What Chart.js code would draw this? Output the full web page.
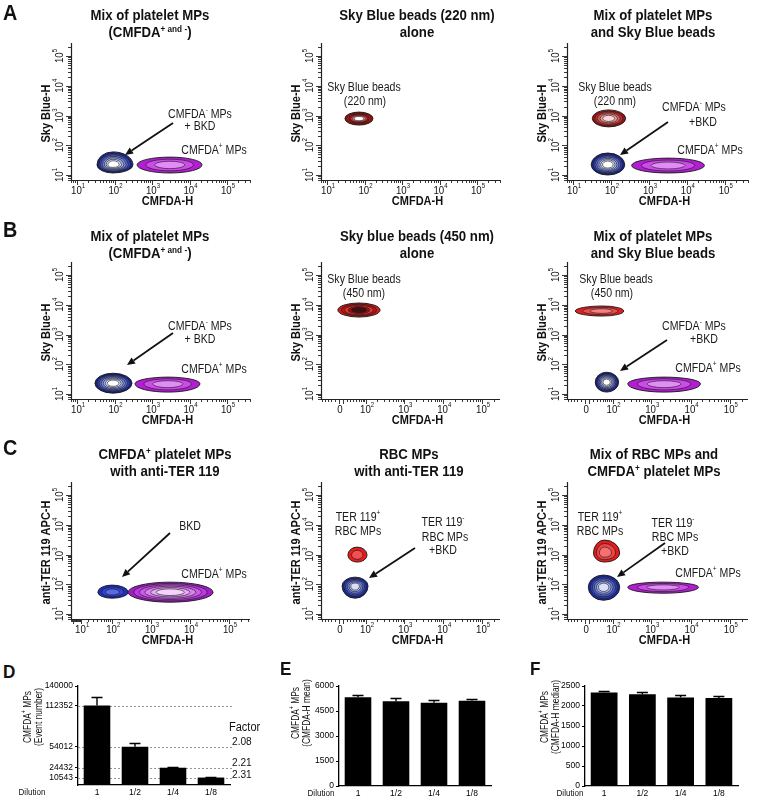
<!DOCTYPE html>
<html><head><meta charset="utf-8">
<script src="https://cdn.jsdelivr.net/npm/chart.js@4.4.1/dist/chart.umd.min.js"></script>
<style>
html,body{margin:0;padding:0;background:#fff;}
#fig{position:relative;width:757px;height:800px;overflow:hidden;background:#fff;font-family:"Liberation Sans",Arial,Helvetica,sans-serif;color:#111;}
canvas{position:absolute;}
.ttl{position:absolute;width:300px;text-align:center;font-weight:bold;font-size:15px;line-height:17px;transform:scaleX(0.88);transform-origin:50% 50%;white-space:nowrap;}
.ttl sup{font-size:0.62em;line-height:0;vertical-align:0.55em;}
.lt{position:absolute;font-weight:bold;line-height:1;transform:scaleX(0.9);transform-origin:0 0;}
</style></head><body><div id="fig"></div>
<script>
// ---------------- DATA ----------------
// axis tick values / labels
const decadeTicks = [10, 100, 1000, 10000, 100000];
const decadeLabels = ['10^{1}', '10^{2}', '10^{3}', '10^{4}', '10^{5}'];
const biexTicks = [0, 100, 1000, 10000, 100000];
const biexLabels = ['0', '10^{2}', '10^{3}', '10^{4}', '10^{5}'];

// populations: [name, xLow, xCenter, xHigh, yLow, yCenter, yHigh]
const popsA1 = [
  ['CMFDA- MPs + BKD', 34, 91, 310, 11.7, 22, 60],
  ['CMFDA+ MPs', 400, 3000, 21500, 11.7, 22, 40]
];
const popsA2 = [
  ['Sky Blue beads (220 nm)', 30, 71, 168, 478, 790, 1310]
];
const popsA3 = [
  ['Sky Blue beads (220 nm)', 32, 86, 243, 415, 800, 1550],
  ['CMFDA- MPs +BKD', 30, 82, 230, 10, 22, 55],
  ['CMFDA+ MPs', 350, 3200, 29000, 11.7, 21, 37]
];
const popsB1 = [
  ['CMFDA- MPs + BKD', 30, 91, 292, 10.7, 23, 50],
  ['CMFDA+ MPs', 351, 2670, 19000, 11.6, 22, 37]
];
const popsB2 = [
  ['Sky Blue beads (450 nm)', -3, 62, 236, 3870, 6670, 11500]
];
const popsB3 = [
  ['Sky Blue beads (450 nm)', -26, 50, 197, 4190, 6170, 9100],
  ['CMFDA- MPs +BKD', 26, 67, 145, 11.6, 25, 54],
  ['CMFDA+ MPs', 251, 2120, 17900, 11.6, 22, 37]
];
const popsC1 = [
  ['BKD', 41, 99, 258, 34, 54, 94],
  ['CMFDA+ MPs', 258, 3080, 39000, 25, 54, 118]
];
const popsC2 = [
  ['TER 119+ RBC MPs', 23, 54, 106, 557, 960, 1780],
  ['TER 119- RBC MPs +BKD', 7.5, 46, 113, 34, 87, 174]
];
const popsC3 = [
  ['TER 119+ RBC MPs', 21, 58, 155, 557, 1120, 3070],
  ['TER 119- RBC MPs +BKD', 7.5, 54, 155, 29, 80, 204],
  ['CMFDA+ MPs', 251, 2000, 15900, 50, 80, 118]
];

// bar charts
const dilutions = ['1', '1/2', '1/4', '1/8'];
const eventNumber = [112352, 54012, 24432, 10543];
const eventNumberErr = [12000, 5200, 1100, 600];
const eventTicks = [10543, 24432, 54012, 112352, 140000];
const factorLabels = ['2.08', '2.21', '2.31'];
const meanCMFDA = [5330, 5090, 4990, 5120];
const meanCMFDAErr = [120, 180, 160, 90];
const medianCMFDA = [2335, 2295, 2215, 2200];
const medianCMFDAErr = [35, 50, 60, 45];

// ---------------- STYLE ----------------
const FONT = '"Liberation Sans", Arial, Helvetica, sans-serif';
const SX = 0.88;
const BLUE = ['#1c2590', '#3040b0', '#5566c8', '#7f8ddc', '#aab3ec', '#d8dcf8', '#ffffff'];
const BLUE_C1 = ['#1f2fc0', '#3444d4', '#5a6ae0'];
const BLUE_C = ['#1c2a9a', '#2e40b8', '#5064cc', '#7888e0', '#a8b2ee', '#dadefa'];
const MAG = ['#b21ed2', '#cc4ce8', '#e28cf6'];
const MAG_C1 = ['#a01cc4', '#bb3ade', '#cc5aea', '#dc82f2', '#e8a8f8', '#f4d2fc'];
const RED_A2 = ['#b01010', '#c81c1c', '#a01414', '#d84848', '#f09090', '#ffffff'];
const RED_A3 = ['#9c1414', '#b83030', '#d86060', '#eea0a0', '#fad8d8'];
const RED_B2 = ['#d41c1c', '#b81414', '#e23a3a', '#a01010', '#401010'];
const RED_B3 = ['#e02020', '#f04c4c', '#f88080'];
const RED_C2 = ['#e41e1e', '#f25050'];
const RED_C3 = ['#e21c1c', '#f04444', '#f67070'];

// ---------------- CUSTOM BIEXPONENTIAL SCALE ----------------
class BiexScale extends Chart.Scale {
  static id = 'biex';
  static defaults = {};
  determineDataLimits() { this.min = this.options.min; this.max = this.options.max; }
  buildTicks() { return [{value: this.min}, {value: this.max}]; }
  tf(v) { const W = this.options.W; return Math.asinh(v / (2 * W)) / Math.LN10; }
  configure() { super.configure(); this._t0 = this.tf(this.min); this._t1 = this.tf(this.max); }
  getPixelForValue(v) { return this.getPixelForDecimal((this.tf(v) - this._t0) / (this._t1 - this._t0)); }
  getValueForPixel(p) { const t = this._t0 + this.getDecimalForPixel(p) * (this._t1 - this._t0); return 2 * this.options.W * Math.sinh(t * Math.LN10); }
  getPixelForTick(i) { return this.getPixelForValue(this.ticks[i].value); }
  getLabelForValue(v) { return String(v); }
}
Chart.register(BiexScale);

// ---------------- HELPERS ----------------
const fig = document.getElementById('fig');
function addCanvas(left, top, w, h) {
  const c = document.createElement('canvas');
  c.width = w; c.height = h;
  c.style.left = left + 'px'; c.style.top = top + 'px';
  c.style.width = w + 'px'; c.style.height = h + 'px';
  fig.appendChild(c); return c;
}
function addHTML(cls, html, css) {
  const d = document.createElement('div'); d.className = cls; d.innerHTML = html;
  Object.assign(d.style, css); fig.appendChild(d); return d;
}
function parseRich(s) {
  const out = []; const re = /\^\{([^}]*)\}/g; let last = 0, m;
  while ((m = re.exec(s))) { if (m.index > last) out.push([s.slice(last, m.index), 0]); out.push([m[1], 1]); last = re.lastIndex; }
  if (last < s.length) out.push([s.slice(last), 0]);
  return out;
}
function drawRich(ctx, s, x, y, o) {
  const size = o.size, wt = o.bold ? 'bold ' : '';
  const fN = wt + size + 'px ' + FONT, fS = wt + (size * 0.62).toFixed(2) + 'px ' + FONT;
  const segs = parseRich(s);
  let w = 0;
  const ws = segs.map(([t, sup]) => { ctx.font = sup ? fS : fN; const m = ctx.measureText(t).width; w += m; return m; });
  ctx.save(); ctx.translate(x, y); if (o.rot) ctx.rotate(o.rot); ctx.scale(o.sx || SX, 1);
  let cx = o.align === 'left' ? 0 : o.align === 'right' ? -w : -w / 2;
  ctx.textBaseline = 'middle'; ctx.textAlign = 'left'; ctx.fillStyle = o.color || '#111';
  segs.forEach(([t, sup], i) => { ctx.font = sup ? fS : fN; ctx.fillText(t, cx, sup ? -size * 0.4 : 0); cx += ws[i]; });
  ctx.restore();
}
function arrow(ctx, x1, y1, x2, y2) {
  const ang = Math.atan2(y2 - y1, x2 - x1), L = 8, Wd = 3.6;
  const bx = x2 - L * Math.cos(ang), by = y2 - L * Math.sin(ang);
  ctx.save(); ctx.strokeStyle = '#111'; ctx.fillStyle = '#111'; ctx.lineWidth = 1.8;
  ctx.beginPath(); ctx.moveTo(x1, y1); ctx.lineTo(bx, by); ctx.stroke();
  ctx.beginPath(); ctx.moveTo(x2, y2);
  ctx.lineTo(bx + Wd * Math.sin(ang), by - Wd * Math.cos(ang));
  ctx.lineTo(bx - Wd * Math.sin(ang), by + Wd * Math.cos(ang));
  ctx.closePath(); ctx.fill(); ctx.restore();
}
function drawBlob(ctx, xs, ys, pop, pal) {
  const [, xl, xc, xh, yl, yc, yh] = pop;
  const cx = xs.getPixelForValue(xc), cy = ys.getPixelForValue(yc);
  const aL = cx - xs.getPixelForValue(xl), aR = xs.getPixelForValue(xh) - cx;
  const bT = cy - ys.getPixelForValue(yh), bB = ys.getPixelForValue(yl) - cy;
  const n = pal.length;
  ctx.save();
  pal.forEach((col, k) => {
    const s = 1 - k * 0.8 / n;
    ctx.beginPath();
    ctx.ellipse(cx, cy, aR * s, bB * s, 0, 0, Math.PI / 2);
    ctx.ellipse(cx, cy, aL * s, bB * s, 0, Math.PI / 2, Math.PI);
    ctx.ellipse(cx, cy, aL * s, bT * s, 0, Math.PI, 1.5 * Math.PI);
    ctx.ellipse(cx, cy, aR * s, bT * s, 0, 1.5 * Math.PI, 2 * Math.PI);
    ctx.closePath();
    ctx.fillStyle = col; ctx.fill();
    ctx.lineWidth = k === 0 ? 0.9 : 0.6; ctx.strokeStyle = '#151515'; ctx.stroke();
  });
  ctx.restore();
}
function tickSet(type, min, max) {
  const out = [];
  if (type !== 'log') out.push([0, true]);
  const kStart = type === 'biex21' ? 1 : 0;
  for (let k = kStart; k <= 5; k++) for (let m = 1; m <= 9; m++) {
    const v = m * Math.pow(10, k);
    if (v >= min && v <= max) out.push([v, m === 1 && k > 0]);
    if (type !== 'log' && -v >= min) out.push([-v, false]);
  }
  return out;
}
const xLabelSets = {log: [decadeTicks, decadeLabels], biex21: [biexTicks, biexLabels], biex10: [decadeTicks, decadeLabels]};
const xRanges = {log: {type: 'logarithmic', min: 6.9, max: 410000},
  biex21: {type: 'biex', min: -54, max: 289000, W: 21},
  biex10: {type: 'biex', min: -2.4, max: 346000, W: 10}};
const yRange = {type: 'logarithmic', min: 6.8, max: 275000};

function flowPlugin(p) {
  return {
    id: 'flow',
    afterDatasetsDraw(chart) {
      const ctx = chart.ctx, a = chart.chartArea, xs = chart.scales.x, ys = chart.scales.y;
      chart.data.datasets.forEach(ds => drawBlob(ctx, xs, ys, ds.pop, ds.pal));
      p.texts.forEach(t => drawRich(ctx, t[0], a.left + t[1], a.top + t[2], {size: 12, color: '#1a1a1a'}));
      p.arrows.forEach(r => arrow(ctx, a.left + r[0], a.top + r[1], a.left + r[2], a.top + r[3]));
      // axes
      ctx.save(); ctx.strokeStyle = '#222'; ctx.lineWidth = 1.2;
      ctx.beginPath(); ctx.moveTo(a.left + 0.5, a.top); ctx.lineTo(a.left + 0.5, a.bottom + 0.5); ctx.lineTo(a.right, a.bottom + 0.5); ctx.stroke();
      ctx.lineWidth = 0.9;
      const xr = xRanges[p.xType];
      tickSet(p.xType, xr.min, xr.max).forEach(([v, maj]) => {
        const x = Math.round(xs.getPixelForValue(v)) + 0.5;
        ctx.beginPath(); ctx.moveTo(x, a.bottom); ctx.lineTo(x, a.bottom + (maj ? 5 : 3)); ctx.stroke();
      });
      tickSet('log', yRange.min, yRange.max).forEach(([v, maj]) => {
        const y = Math.round(ys.getPixelForValue(v)) + 0.5;
        ctx.beginPath(); ctx.moveTo(a.left, y); ctx.lineTo(a.left - (maj ? 5 : 3), y); ctx.stroke();
      });
      ctx.restore();
      const [tv, tl] = xLabelSets[p.xType];
      tv.forEach((v, i) => drawRich(ctx, tl[i], xs.getPixelForValue(v) + 1, a.bottom + 11, {size: 11}));
      decadeTicks.forEach((v, i) => drawRich(ctx, decadeLabels[i], a.left - 11, ys.getPixelForValue(v), {size: 11, rot: -Math.PI / 2}));
      drawRich(ctx, 'CMFDA-H', (a.left + a.right) / 2 + 7, a.bottom + 22, {size: 12.5, bold: true});
      drawRich(ctx, p.ytitle, a.left - 24, (a.top + a.bottom) / 2 + 2, {size: 12.5, bold: true, rot: -Math.PI / 2});
    }
  };
}
function flowChart(p) {
  const cv = addCanvas(p.left, p.top, p.w, p.h);
  const pad = {left: p.area[0] - p.left, top: p.area[1] - p.top, right: p.left + p.w - p.area[2], bottom: p.top + p.h - p.area[3]};
  new Chart(cv, {
    type: 'scatter',
    data: {datasets: p.pops.map((pop, i) => ({label: pop[0], data: [{x: pop[2], y: pop[5]}], pointRadius: 0, pop: pop, pal: p.pals[i]}))},
    options: {
      responsive: false, animation: false, events: [],
      layout: {padding: pad},
      plugins: {legend: {display: false}, tooltip: {enabled: false}},
      scales: {x: Object.assign({display: false}, xRanges[p.xType]), y: Object.assign({display: false}, yRange)}
    },
    plugins: [flowPlugin(p)]
  });
}

// ---------------- CONTOUR PANELS ----------------
const colL = {left: 0, w: 252, x0: 71, x1: 250};
const colM = {left: 250, w: 252, x0: 321, x1: 500};
const colR = {left: 496, w: 261, x0: 567, x1: 748};
const rowA = {top: 35, y0: 43, y1: 180};
const rowB = {top: 254, y0: 262, y1: 399};
const rowC = {top: 474, y0: 482, y1: 619};
function P(col, row, xType, ytitle, pops, pals, texts, arrows) {
  return {left: col.left, top: row.top, w: col.w, h: 180, area: [col.x0, row.y0, col.x1, row.y1], xType, ytitle, pops, pals, texts, arrows};
}
const panels = [
  P(colL, rowA, 'log', 'Sky Blue-H', popsA1, [BLUE, MAG],
    [['CMFDA^{-} MPs', 129, 72], ['+ BKD', 129, 84], ['CMFDA^{+} MPs', 143, 108]], [[102, 80, 54, 112]]),
  P(colM, rowA, 'log', 'Sky Blue-H', popsA2, [RED_A2],
    [['Sky Blue beads', 43, 45], ['(220 nm)', 44, 59]], []),
  P(colR, rowA, 'log', 'Sky Blue-H', popsA3, [RED_A3, BLUE, MAG],
    [['Sky Blue beads', 48, 45], ['(220 nm)', 48, 59], ['CMFDA^{-} MPs', 127, 65], ['+BKD', 136, 80], ['CMFDA^{+} MPs', 143, 108]], [[101, 79, 53, 112]]),
  P(colL, rowB, 'log', 'Sky Blue-H', popsB1, [BLUE, MAG],
    [['CMFDA^{-} MPs', 129, 65], ['+ BKD', 129, 78], ['CMFDA^{+} MPs', 143, 108]], [[102, 71, 56, 103]]),
  P(colM, rowB, 'biex21', 'Sky Blue-H', popsB2, [RED_B2],
    [['Sky Blue beads', 43, 18], ['(450 nm)', 43, 32]], []),
  P(colR, rowB, 'biex21', 'Sky Blue-H', popsB3, [RED_B3, BLUE, MAG],
    [['Sky Blue beads', 49, 18], ['(450 nm)', 45, 32], ['CMFDA^{-} MPs', 127, 65], ['+BKD', 137, 78], ['CMFDA^{+} MPs', 141, 107]], [[100, 78, 53, 109]]),
  P(colL, rowC, 'biex10', 'anti-TER 119 APC-H', popsC1, [BLUE_C1, MAG_C1],
    [['BKD', 119, 45], ['CMFDA^{+} MPs', 143, 93]], [[99, 51, 51, 95]]),
  P(colM, rowC, 'biex21', 'anti-TER 119 APC-H', popsC2, [RED_C2, BLUE_C],
    [['TER 119^{+}', 37, 36], ['RBC MPs', 37, 50], ['TER 119^{-}', 122, 41], ['RBC MPs', 124, 56], ['+BKD', 122, 69]], [[94, 66, 48, 96]]),
  P(colR, rowC, 'biex21', 'anti-TER 119 APC-H', popsC3, [RED_C3, BLUE_C, MAG],
    [['TER 119^{+}', 33, 36], ['RBC MPs', 33, 50], ['TER 119^{-}', 106, 42], ['RBC MPs', 108, 56], ['+BKD', 108, 70], ['CMFDA^{+} MPs', 141, 92]], [[98, 61, 50, 95]])
];
panels.forEach(flowChart);

// ---------------- TITLES & LETTERS ----------------
const titles = [
  [150, 14, 'Mix of platelet MPs<br>(CMFDA<sup>+ and -</sup>)'],
  [417, 14, 'Sky Blue beads (220 nm)<br>alone'],
  [653, 14, 'Mix of platelet MPs<br>and Sky Blue beads'],
  [150, 235, 'Mix of platelet MPs<br>(CMFDA<sup>+ and -</sup>)'],
  [417, 235, 'Sky blue beads (450 nm)<br>alone'],
  [653, 235, 'Mix of platelet MPs<br>and Sky Blue beads'],
  [165, 453, 'CMFDA<sup>+</sup> platelet MPs<br>with anti-TER 119'],
  [409, 453, 'RBC MPs<br>with anti-TER 119'],
  [654, 453, 'Mix of RBC MPs and<br>CMFDA<sup>+</sup> platelet MPs']
];
titles.forEach(([cx, cy, h]) => addHTML('ttl', h, {left: (cx - 150) + 'px', top: (cy - 8.5) + 'px'}));
[['A', 3, 1.5, 22], ['B', 3, 218.5, 22], ['C', 3, 436.5, 22], ['D', 3, 662, 19], ['E', 280, 659, 19], ['F', 530, 659, 19]]
  .forEach(([t, x, y, s]) => addHTML('lt', t, {left: x + 'px', top: y + 'px', fontSize: s + 'px'}));

// ---------------- BAR CHARTS ----------------
function barPlugin(o) {
  return {
    id: 'barx',
    beforeDatasetsDraw(chart) {
      if (!o.dashed) return;
      const ys = chart.scales.y, a = chart.chartArea, ctx = chart.ctx;
      ctx.save(); ctx.setLineDash([2, 2]); ctx.strokeStyle = '#8a8a8a'; ctx.lineWidth = 0.9;
      o.dashed.forEach(v => { const y = Math.round(ys.getPixelForValue(v)) + 0.5; ctx.beginPath(); ctx.moveTo(a.left, y); ctx.lineTo(a.right + 3, y); ctx.stroke(); });
      ctx.restore();
    },
    afterDatasetsDraw(chart) {
      const ys = chart.scales.y, a = chart.chartArea, ctx = chart.ctx;
      const meta = chart.getDatasetMeta(0);
      ctx.save(); ctx.strokeStyle = '#000'; ctx.lineWidth = 1.4;
      meta.data.forEach((bar, i) => {
        const y0 = ys.getPixelForValue(o.values[i]), y1 = Math.round(ys.getPixelForValue(o.values[i] + o.errs[i])) + 0.5;
        ctx.beginPath(); ctx.moveTo(bar.x, y0); ctx.lineTo(bar.x, y1); ctx.moveTo(bar.x - 5.5, y1); ctx.lineTo(bar.x + 5.5, y1); ctx.stroke();
      });
      ctx.restore();
      if (o.factors) {
        drawRich(ctx, 'Factor', o.factorX - 3, ys.getPixelForValue(o.dashed[1]) - 19, {size: 12.5, align: 'left'});
        const off = [-5, -4.5, -2.5];
        o.factors.forEach((f, i) => drawRich(ctx, f, o.factorX, ys.getPixelForValue(o.dashed[i + 1]) + off[i], {size: 11.5, align: 'left'}));
      }
      drawRich(ctx, 'CMFDA^{+} MPs', o.tx1, o.ty, {size: 10.5, rot: -Math.PI / 2, sx: 0.8});
      drawRich(ctx, o.title2, o.tx2, o.ty, {size: 10.5, rot: -Math.PI / 2, sx: 0.8});
      drawRich(ctx, 'Dilution', o.dilX, a.bottom + 8, {size: 8.5, sx: 0.95});
    }
  };
}
function barChart(o) {
  const cv = addCanvas(o.left, o.top, o.w, o.h);
  const yScale = {
    min: 0, max: o.max,
    grid: {drawOnChartArea: false, color: '#000', tickLength: 3, lineWidth: 1},
    border: {color: '#000', width: 1.3},
    ticks: {color: '#000', font: {size: 8.5, family: FONT}, padding: 2, callback: v => String(v)},
    afterFit: s => { s.width = o.yW; }
  };
  if (o.ticks) yScale.afterBuildTicks = s => { s.ticks = o.ticks.map(v => ({value: v})); };
  else yScale.ticks.stepSize = o.step;
  new Chart(cv, {
    type: 'bar',
    data: {labels: dilutions, datasets: [{data: o.values, backgroundColor: '#000', borderWidth: 0, barPercentage: 0.7, categoryPercentage: 1}]},
    options: {
      responsive: false, animation: false, events: [],
      layout: {padding: {left: 0, top: o.padTop, right: o.padRight, bottom: 0}},
      plugins: {legend: {display: false}, tooltip: {enabled: false}},
      scales: {
        x: {grid: {display: false, drawTicks: false, tickLength: 0}, border: {color: '#000', width: 1.3},
            ticks: {color: '#000', font: {size: 8.5, family: FONT}, padding: 3, maxRotation: 0},
            afterFit: s => { s.height = o.xH; }},
        y: yScale
      }
    },
    plugins: [barPlugin(o)]
  });
}
barChart({left: 0, top: 676, w: 268, h: 124, yW: 78, padTop: 10, padRight: 38, xH: 15, max: 140000,
  values: eventNumber, errs: eventNumberErr, ticks: eventTicks, dashed: eventNumber, factors: factorLabels, factorX: 232,
  tx1: 28, tx2: 39, ty: 717 - 676, title2: '(Event number)', dilX: 32});
barChart({left: 255, top: 676, w: 250, h: 124, yW: 84, padTop: 10, padRight: 14, xH: 14, max: 6000, step: 1500,
  values: meanCMFDA, errs: meanCMFDAErr,
  tx1: 296 - 255, tx2: 307 - 255, ty: 713 - 676, title2: '(CMFDA-H mean)', dilX: 321 - 255});
barChart({left: 505, top: 676, w: 252, h: 124, yW: 80, padTop: 10, padRight: 19, xH: 14, max: 2500, step: 500,
  values: medianCMFDA, errs: medianCMFDAErr,
  tx1: 545 - 505, tx2: 556 - 505, ty: 717 - 676, title2: '(CMFDA-H median)', dilX: 570 - 505});
</script></body></html>
